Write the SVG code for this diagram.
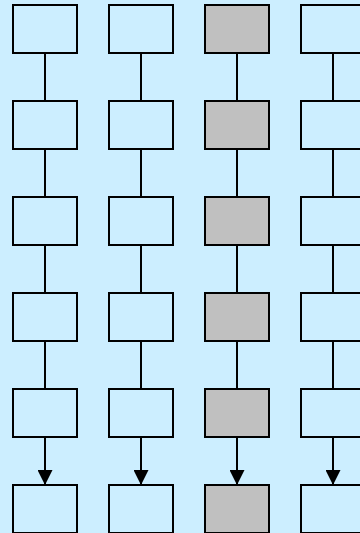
<svg xmlns="http://www.w3.org/2000/svg" width="360" height="533" viewBox="0 0 360 533">
<style>
.n{fill:#cceeff;stroke:#000;stroke-width:2}
.g{fill:#c0c0c0;stroke:#000;stroke-width:2}
.e{stroke:#000;stroke-width:2;fill:none}
</style>
<defs>
<marker id="ah" markerUnits="userSpaceOnUse" markerWidth="16" markerHeight="15" refX="15" refY="8" orient="auto" viewBox="0 0 16 16">
<path d="M0,0 L16,8 L0,16 Z" fill="#000"/>
</marker>
</defs>
<rect width="360" height="533" fill="#cceeff"/>
<g id="edges">
<line class="e" x1="45" y1="53" x2="45" y2="101"/>
<line class="e" x1="45" y1="149" x2="45" y2="197"/>
<line class="e" x1="45" y1="245" x2="45" y2="293"/>
<line class="e" x1="45" y1="341" x2="45" y2="389"/>
<line class="e" x1="45" y1="437" x2="45" y2="484" marker-end="url(#ah)"/>
<line class="e" x1="141" y1="53" x2="141" y2="101"/>
<line class="e" x1="141" y1="149" x2="141" y2="197"/>
<line class="e" x1="141" y1="245" x2="141" y2="293"/>
<line class="e" x1="141" y1="341" x2="141" y2="389"/>
<line class="e" x1="141" y1="437" x2="141" y2="484" marker-end="url(#ah)"/>
<line class="e" x1="237" y1="53" x2="237" y2="101"/>
<line class="e" x1="237" y1="149" x2="237" y2="197"/>
<line class="e" x1="237" y1="245" x2="237" y2="293"/>
<line class="e" x1="237" y1="341" x2="237" y2="389"/>
<line class="e" x1="237" y1="437" x2="237" y2="484" marker-end="url(#ah)"/>
<line class="e" x1="333" y1="53" x2="333" y2="101"/>
<line class="e" x1="333" y1="149" x2="333" y2="197"/>
<line class="e" x1="333" y1="245" x2="333" y2="293"/>
<line class="e" x1="333" y1="341" x2="333" y2="389"/>
<line class="e" x1="333" y1="437" x2="333" y2="484" marker-end="url(#ah)"/>
</g>
<g id="a1"><rect class="n" x="13" y="5" width="64" height="48"/></g>
<g id="a2"><rect class="n" x="13" y="101" width="64" height="48"/></g>
<g id="a3"><rect class="n" x="13" y="197" width="64" height="48"/></g>
<g id="a4"><rect class="n" x="13" y="293" width="64" height="48"/></g>
<g id="a5"><rect class="n" x="13" y="389" width="64" height="48"/></g>
<g id="a6"><rect class="n" x="13" y="485" width="64" height="48"/></g>
<g id="b1"><rect class="n" x="109" y="5" width="64" height="48"/></g>
<g id="b2"><rect class="n" x="109" y="101" width="64" height="48"/></g>
<g id="b3"><rect class="n" x="109" y="197" width="64" height="48"/></g>
<g id="b4"><rect class="n" x="109" y="293" width="64" height="48"/></g>
<g id="b5"><rect class="n" x="109" y="389" width="64" height="48"/></g>
<g id="b6"><rect class="n" x="109" y="485" width="64" height="48"/></g>
<g id="c1"><rect class="g" x="205" y="5" width="64" height="48"/></g>
<g id="c2"><rect class="g" x="205" y="101" width="64" height="48"/></g>
<g id="c3"><rect class="g" x="205" y="197" width="64" height="48"/></g>
<g id="c4"><rect class="g" x="205" y="293" width="64" height="48"/></g>
<g id="c5"><rect class="g" x="205" y="389" width="64" height="48"/></g>
<g id="c6"><rect class="g" x="205" y="485" width="64" height="48"/></g>
<g id="d1"><rect class="n" x="301" y="5" width="64" height="48"/></g>
<g id="d2"><rect class="n" x="301" y="101" width="64" height="48"/></g>
<g id="d3"><rect class="n" x="301" y="197" width="64" height="48"/></g>
<g id="d4"><rect class="n" x="301" y="293" width="64" height="48"/></g>
<g id="d5"><rect class="n" x="301" y="389" width="64" height="48"/></g>
<g id="d6"><rect class="n" x="301" y="485" width="64" height="48"/></g>
</svg>
